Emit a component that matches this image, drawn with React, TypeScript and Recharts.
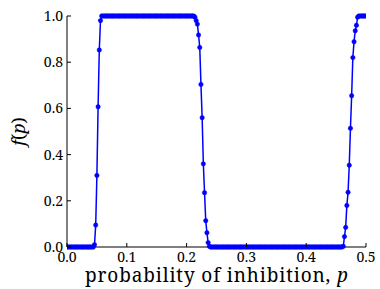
import { LineChart, Line, XAxis, YAxis } from "recharts";

// sampled every 0.002 on p in [0, 0.5]
const P_STEP = 0.002;

const fValues = [
  0, 0, 0, 0, 0, 0, 0, 0, 0, 0, 0, 0, 0, 0, 0, 0, 0, 0, 0, 0,
  0, 0, 0, 0.01, 0.095, 0.31, 0.607, 0.853, 0.98, 1, 1, 1, 1, 1, 1, 1, 1, 1, 1, 1,
  1, 1, 1, 1, 1, 1, 1, 1, 1, 1, 1, 1, 1, 1, 1, 1, 1, 1, 1, 1,
  1, 1, 1, 1, 1, 1, 1, 1, 1, 1, 1, 1, 1, 1, 1, 1, 1, 1, 1, 1,
  1, 1, 1, 1, 1, 1, 1, 1, 1, 1, 1, 1, 1, 1, 1, 1, 1, 1, 1, 1,
  1, 1, 1, 1, 1, 1, 1, 0.995, 0.98, 0.965, 0.918, 0.864, 0.704, 0.56, 0.36, 0.235, 0.114, 0.062, 0.019, 0.003,
  0, 0, 0, 0, 0, 0, 0, 0, 0, 0, 0, 0, 0, 0, 0, 0, 0, 0, 0, 0,
  0, 0, 0, 0, 0, 0, 0, 0, 0, 0, 0, 0, 0, 0, 0, 0, 0, 0, 0, 0,
  0, 0, 0, 0, 0, 0, 0, 0, 0, 0, 0, 0, 0, 0, 0, 0, 0, 0, 0, 0,
  0, 0, 0, 0, 0, 0, 0, 0, 0, 0, 0, 0, 0, 0, 0, 0, 0, 0, 0, 0,
  0, 0, 0, 0, 0, 0, 0, 0, 0, 0, 0, 0, 0, 0, 0, 0, 0, 0, 0, 0,
  0, 0, 0, 0, 0, 0, 0, 0, 0, 0, 0, 0.003, 0.045, 0.085, 0.18, 0.237, 0.354, 0.514, 0.655, 0.82,
  0.889, 0.936, 0.96, 0.995, 1, 1, 1, 1, 1, 1, 1,
];

const xTicks = [0, 0.1, 0.2, 0.3, 0.4, 0.5];
const yTicks = [0, 0.2, 0.4, 0.6, 0.8, 1.0];

const data = fValues.map((f, i) => ({ p: +(i * P_STEP).toFixed(3), f }));

const FONT = "'Noto Serif', 'Liberation Serif', serif";
const TICK = 4;

function BottomTick({ x, y, payload }: any) {
  return (
    <g>
      <line x1={x} y1={y} x2={x} y2={y - TICK} stroke="#000" />
      <text x={x} y={y + 14.5} textAnchor="middle" fontFamily={FONT} fontSize={14} fill="#000">
        {Number(payload.value).toFixed(1)}
      </text>
    </g>
  );
}

function TopTick({ x, y }: any) {
  return <line x1={x} y1={y} x2={x} y2={y + TICK} stroke="#000" />;
}

function LeftTick({ x, y, payload }: any) {
  return (
    <g>
      <line x1={x} y1={y} x2={x + TICK} y2={y} stroke="#000" />
      <text x={x - 4} y={y + 5} textAnchor="end" fontFamily={FONT} fontSize={14} fill="#000">
        {Number(payload.value).toFixed(1)}
      </text>
    </g>
  );
}

function RightTick({ x, y }: any) {
  return <line x1={x} y1={y} x2={x - TICK} y2={y} stroke="#000" />;
}

export default function App() {
  return (
    <div style={{ position: "absolute", left: 0, top: 0, width: 380, height: 289, background: "#fff" }}>
      <LineChart width={380} height={289} data={data} margin={{ top: 16, right: 14, bottom: 0, left: 0 }}>
        <XAxis
          dataKey="p"
          type="number"
          domain={[0, 0.5]}
          ticks={xTicks}
          height={42}
          tickSize={0}
          tickMargin={0}
          tickLine={false}
          tick={BottomTick}
          axisLine={{ stroke: "#000" }}
          allowDataOverflow
          label={{
            content: () => (
              <text
                x={216.5}
                y={282}
                textAnchor="middle"
                fontFamily={FONT}
                fontSize={19}
                textLength={263}
                lengthAdjust="spacing"
                fill="#000"
              >
                probability of inhibition, <tspan fontStyle="italic">p</tspan>
              </text>
            ),
          }}
        />
        <XAxis
          xAxisId="top"
          orientation="top"
          dataKey="p"
          type="number"
          domain={[0, 0.5]}
          ticks={xTicks}
          height={0}
          tickSize={0}
          tickMargin={0}
          tickLine={false}
          tick={TopTick}
          axisLine={{ stroke: "#000" }}
        />
        <YAxis
          type="number"
          domain={[0, 1]}
          ticks={yTicks}
          width={67}
          tickSize={0}
          tickMargin={0}
          tickLine={false}
          tick={LeftTick}
          axisLine={{ stroke: "#000" }}
          label={{
            content: () => (
              <text
                transform="translate(25,131.5) rotate(-90)"
                textAnchor="middle"
                fontFamily={FONT}
                fontSize={18}
                fill="#000"
              >
                <tspan fontStyle="italic">f</tspan>(<tspan fontStyle="italic">p</tspan>)
              </text>
            ),
          }}
        />
        <YAxis
          yAxisId="right"
          orientation="right"
          type="number"
          domain={[0, 1]}
          ticks={yTicks}
          width={0}
          tickSize={0}
          tickMargin={0}
          tickLine={false}
          tick={RightTick}
          axisLine={{ stroke: "#000" }}
        />
        <Line
          dataKey="f"
          stroke="#0000ff"
          strokeWidth={1.5}
          dot={{ r: 2.2, fill: "#0000ff", stroke: "#0000ff", strokeWidth: 0.5 }}
          isAnimationActive={false}
        />
      </LineChart>
    </div>
  );
}
